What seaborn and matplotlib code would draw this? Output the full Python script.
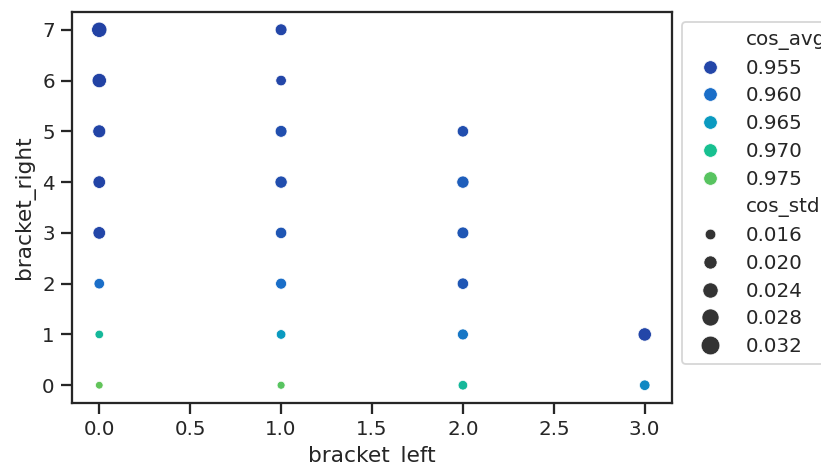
import numpy as np
import pandas as pd
import seaborn as sns
import matplotlib
matplotlib.use("Agg")
import matplotlib.pyplot as plt
from matplotlib.colors import LinearSegmentedColormap

bracket_left = [0, 0, 0, 0, 0, 0, 0, 0,
                1, 1, 1, 1, 1, 1, 1, 1,
                2, 2, 2, 2, 2, 2,
                3, 3]
bracket_right = [0, 1, 2, 3, 4, 5, 6, 7,
                 0, 1, 2, 3, 4, 5, 6, 7,
                 0, 1, 2, 3, 4, 5,
                 0, 1]
cos_avg = [0.977, 0.969, 0.960, 0.955, 0.954, 0.954, 0.953, 0.953,
           0.975, 0.965, 0.960, 0.957, 0.956, 0.956, 0.955, 0.955,
           0.969, 0.961, 0.957, 0.957, 0.958, 0.956,
           0.963, 0.955]
cos_std = [0.0145, 0.016, 0.020, 0.025, 0.025, 0.026, 0.030, 0.033,
           0.015, 0.018, 0.021, 0.022, 0.024, 0.023, 0.020, 0.023,
           0.018, 0.021, 0.022, 0.023, 0.024, 0.022,
           0.020, 0.027]

df = pd.DataFrame({"bracket_left": bracket_left, "bracket_right": bracket_right,
                   "cos_avg": cos_avg, "cos_std": cos_std})

sns.set_theme(style="ticks", context="notebook")
plt.rcParams["font.family"] = ["DejaVu Sans"]

hue_lo, hue_hi = 0.953, 0.977
anchor_vals = [0.953, 0.955, 0.960, 0.965, 0.970, 0.975, 0.977]
anchor_cols = ["#2242a4", "#2346a8", "#1a6ec8", "#0a9ac0", "#18c090", "#58c460", "#62c45a"]
cmap = LinearSegmentedColormap.from_list(
    "custom", [((v - hue_lo) / (hue_hi - hue_lo), c) for v, c in zip(anchor_vals, anchor_cols)])

dpi = 130
fig = plt.figure(figsize=(821 / dpi, 464 / dpi), dpi=dpi)
ax = fig.add_axes([72 / 821, 1 - 403 / 464, 600 / 821, 391 / 464])
sns.scatterplot(data=df, x="bracket_left", y="bracket_right", hue="cos_avg",
                size="cos_std", palette=cmap, hue_norm=(hue_lo, hue_hi), ax=ax)
sns.move_legend(ax, "upper left", bbox_to_anchor=(1, 1), labelspacing=0.44,
                markerscale=1.25)
fig.savefig("out.png", dpi=dpi)
